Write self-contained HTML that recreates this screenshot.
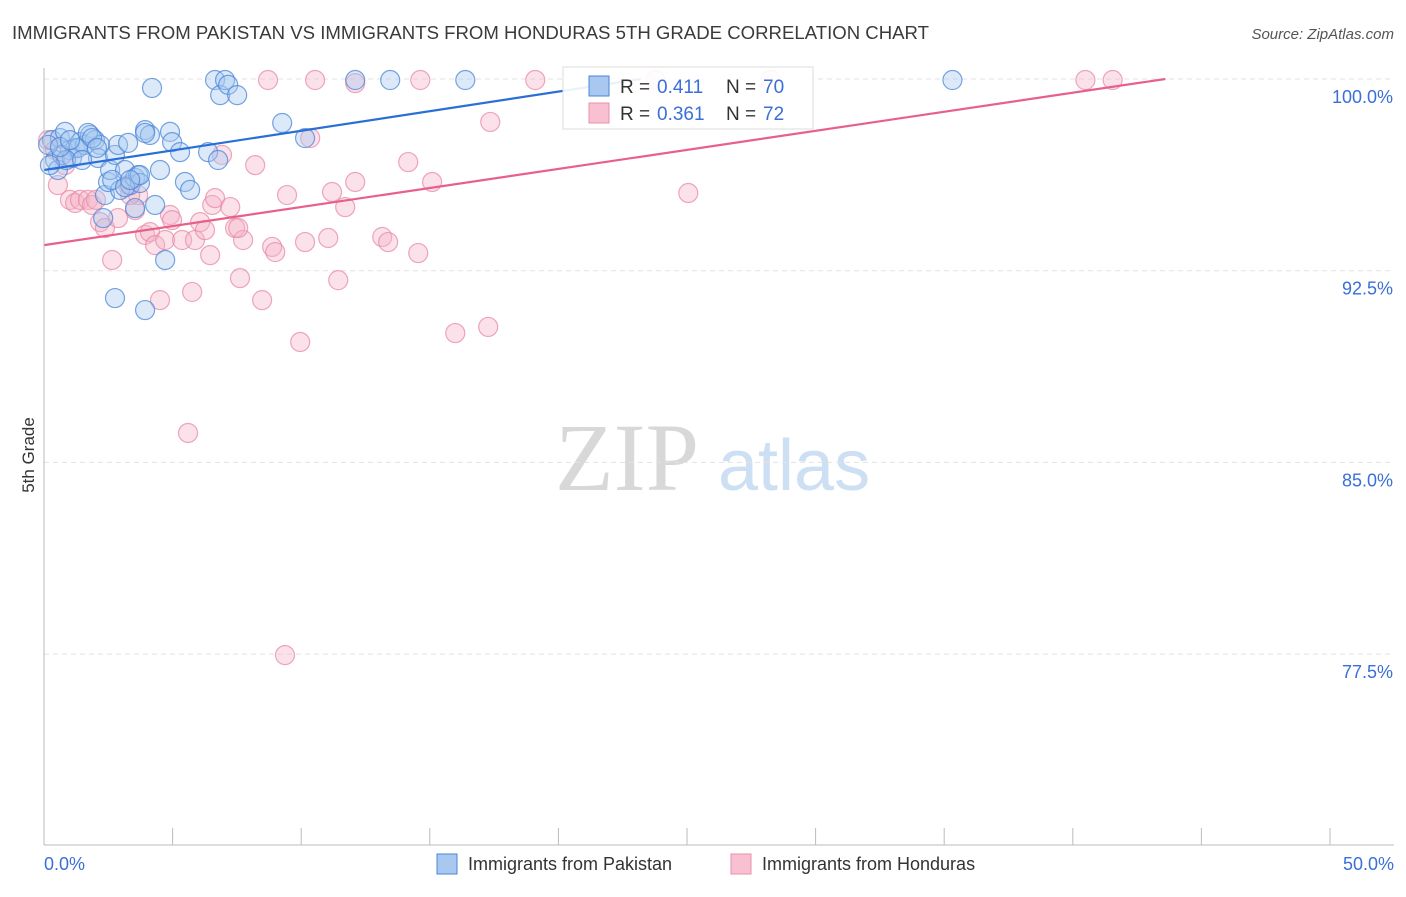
<!DOCTYPE html>
<html><head><meta charset="utf-8"><style>
body{margin:0;background:#fff;font-family:"Liberation Sans",sans-serif}
</style></head><body>
<svg id="chart" width="1406" height="892" xmlns="http://www.w3.org/2000/svg">
<text x="12" y="39" font-size="18.6" fill="#3a3a3a">IMMIGRANTS FROM PAKISTAN VS IMMIGRANTS FROM HONDURAS 5TH GRADE CORRELATION CHART</text>
<text x="1394" y="39" font-size="15" fill="#555" font-style="italic" text-anchor="end">Source: ZipAtlas.com</text>
<text x="555" y="490" font-size="96" fill="#d8d8d8" font-family="Liberation Serif">ZIP</text>
<text x="718" y="490" font-size="72" fill="#cddff3">atlas</text>
<text transform="translate(34,455) rotate(-90)" font-size="17" fill="#333" text-anchor="middle">5th Grade</text>
<g id="grid"></g><g id="ticks"></g><g id="pts"></g><g id="trend"></g>
<line x1="44" y1="68" x2="44" y2="845" stroke="#bbb"/>
<line x1="44" y1="845" x2="1394" y2="845" stroke="#bbb"/>
<text x="44" y="870" font-size="18" fill="#3a6fd8">0.0%</text>
<text x="1394" y="870" font-size="18" fill="#3a6fd8" text-anchor="end">50.0%</text>
<g>
<rect x="563" y="67" width="250" height="62" fill="#fff" fill-opacity="0.9" stroke="#ddd"/>
<rect x="589" y="76" width="20" height="20" fill="#a8c8f0" stroke="#4a86d8"/>
<rect x="589" y="103" width="20" height="20" fill="#f8c0d0" stroke="#e890a8"/>
<text y="93" font-size="19" fill="#333"><tspan x="620">R = </tspan><tspan x="657" fill="#3a6fd8">0.411</tspan><tspan x="726">N = </tspan><tspan x="763" fill="#3a6fd8">70</tspan></text>
<text y="120" font-size="19" fill="#333"><tspan x="620">R = </tspan><tspan x="657" fill="#3a6fd8">0.361</tspan><tspan x="726">N = </tspan><tspan x="763" fill="#3a6fd8">72</tspan></text>
</g>
<g>
<rect x="437" y="854" width="20" height="20" fill="#a8c8f0" stroke="#4a86d8"/>
<text x="468" y="870" font-size="18" fill="#333">Immigrants from Pakistan</text>
<rect x="731" y="854" width="20" height="20" fill="#f8c0d0" stroke="#e890a8"/>
<text x="762" y="870" font-size="18" fill="#333">Immigrants from Honduras</text>
</g>
</svg>
<script>
const yTicks=[100,92.5,85,77.5];
const yTickLabels=["100.0%","92.5%","85.0%","77.5%"];
const blueX=[0.31,0.62,0.82,1.01,1.21,1.40,1.59,1.79,1.98,2.18,0.43,0.54,0.70,1.09,1.32,1.71,1.87,2.10,2.37,2.49,2.57,2.76,2.88,2.96,3.15,3.27,3.35,3.54,3.66,3.73,3.93,4.12,4.20,4.32,4.51,4.71,4.90,4.98,5.29,5.48,5.68,6.38,6.65,6.77,6.85,7.04,7.16,7.51,3.93,2.76,3.93,9.26,10.15,12.10,13.46,16.38,35.32,2.30,3.54,0.86,0.16,0.23,1.48,2.65,3.15,2.06,3.73,0.62,1.01,3.35];
const blueY=[97.61,97.69,97.93,97.22,97.30,97.53,97.42,97.81,97.61,97.42,96.83,96.44,97.03,96.91,97.30,97.89,97.69,96.91,95.46,95.97,96.44,97.03,97.42,95.66,96.44,97.50,95.85,96.13,96.24,95.93,98.00,97.81,99.65,95.07,96.44,92.92,97.93,97.53,97.14,95.97,95.66,97.14,99.96,96.83,99.37,99.96,99.77,99.37,97.89,91.43,90.96,98.28,97.69,99.96,99.96,99.96,99.96,94.56,94.95,96.83,97.42,96.63,96.83,96.05,95.77,97.30,96.24,97.34,97.61,96.05];
const pinkX=[0.16,0.43,0.54,0.82,1.01,1.21,1.40,1.71,1.87,2.18,2.37,2.65,2.88,3.27,3.54,3.66,3.93,4.12,4.32,4.51,4.71,4.90,4.98,5.37,5.60,5.76,5.87,6.07,6.26,6.46,6.54,6.65,6.92,7.24,7.43,7.62,7.74,8.21,8.48,8.71,8.87,8.99,9.37,9.45,9.96,10.15,10.35,10.54,11.05,11.20,11.44,11.71,12.10,12.10,13.15,13.38,14.16,14.55,14.63,15.09,15.99,17.27,17.35,19.10,23.77,25.05,28.24,40.49,41.55,7.55,3.35,2.02];
const pinkY=[97.61,97.22,95.85,96.63,95.27,95.15,95.27,95.27,95.07,94.40,94.17,92.92,94.56,95.85,94.87,95.46,93.90,94.01,93.50,91.35,93.70,94.68,94.48,93.70,86.15,91.67,93.70,94.40,94.09,93.11,95.07,95.34,97.03,94.99,94.17,92.21,93.70,96.63,91.35,99.96,93.43,93.23,77.46,95.46,89.71,93.62,97.69,99.96,93.78,95.58,92.13,94.99,95.97,99.84,93.82,93.62,96.75,93.19,99.96,95.97,90.06,90.30,98.32,99.96,99.96,95.54,99.96,99.96,99.96,94.17,95.46,95.27];
const blueTrend=[96.44,100];
const blueEndX=[0,23.2];
const pinkTrend=[93.5,100];
const pinkEndX=[0,43.6];
const sx=v=>44+v/50*1286;
const sy=v=>79+(100-v)*25.56;
const NS="http://www.w3.org/2000/svg";
function mk(tag,attrs,parent){const e=document.createElementNS(NS,tag);for(const k in attrs)e.setAttribute(k,attrs[k]);document.getElementById(parent).appendChild(e);return e;}
yTicks.forEach((t,i)=>{
 const l=mk('line',{x1:44,x2:1394,y1:sy(t),y2:sy(t),stroke:'#e2e2e2','stroke-dasharray':'5,4'},'grid');
 
 
 const tx=mk('text',{x:1393,y:sy(t)+24,'font-size':18,fill:'#3a6fd8','text-anchor':'end'},'grid');
 tx.textContent=yTickLabels[i];
 
 
});
for(let i=1;i<=10;i++){
 const x=sx(i*5);
 const l=mk('line',{x1:x,x2:x,y1:828,y2:845,stroke:'#bbb'},'ticks');
 
 
}
function pts(X,Y,fill,stroke,name){
 X.forEach((x,i)=>{
  const c=mk('circle',{cx:sx(x),cy:sy(Y[i]),r:9.5,fill:fill,'fill-opacity':0.4,stroke:stroke,'stroke-opacity':0.75,'stroke-width':1.2},'pts');
  
  
 });
}
pts(pinkX,pinkY,'#f6b4c8','#e88aa6','point-honduras');
pts(blueX,blueY,'#a8c8f0','#4a86d8','point-pakistan');
const pl=mk('line',{x1:sx(pinkEndX[0]),y1:sy(pinkTrend[0]),x2:sx(pinkEndX[1]),y2:sy(pinkTrend[1]),stroke:'#e8608a','stroke-width':2.2},'trend');


const bl=mk('line',{x1:sx(blueEndX[0]),y1:sy(blueTrend[0]),x2:sx(blueEndX[1]),y2:sy(blueTrend[1]),stroke:'#2a6fd6','stroke-width':2.2},'trend');


</script>
</body></html>
